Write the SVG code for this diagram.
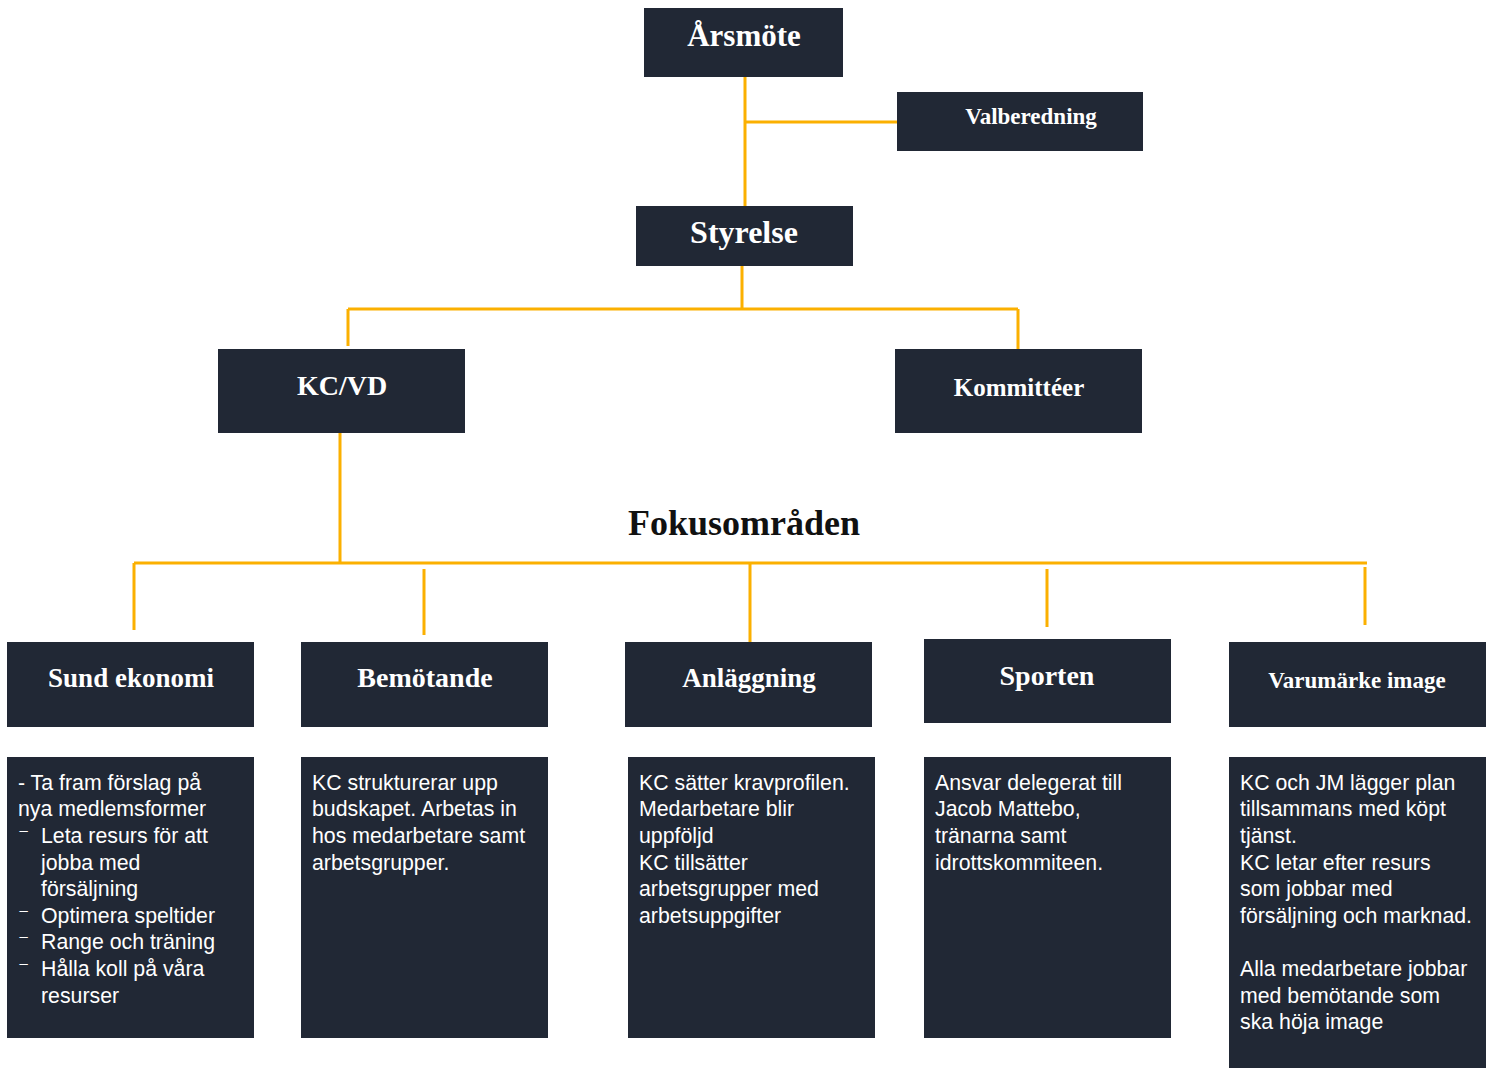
<svg xmlns="http://www.w3.org/2000/svg" width="1492" height="1068" viewBox="0 0 1492 1068">
<style>
.box{fill:#212835}
.ln{stroke:#FBB000;stroke-width:3;fill:none}
.h{font-family:"Liberation Serif",serif;font-weight:bold;fill:#fff;text-anchor:middle}
.t{font-family:"Liberation Sans",Arial,sans-serif;font-size:21.3px;fill:#fff}
.d{font-family:"DejaVu Sans",sans-serif}
</style>
<rect width="1492" height="1068" fill="#fff"/>
<g id="connectors">
<path class="ln" d="M745 77V206M745 122H897"/>
<path class="ln" d="M742 266V309M348 309H1018M348 309V346M1018 309V349"/>
<path class="ln" d="M340 433V563M134 563H1367M134 563V630M424 569V635M750 563V642M1047 569V627M1365 567V625"/>
</g>
<g id="arsmote"><rect class="box" x="644" y="8" width="199" height="69"/><text class="h" x="744" y="46" font-size="31">Årsmöte</text></g>
<g id="valberedning"><rect class="box" x="897" y="92" width="246" height="59"/><text class="h" x="1031" y="124" font-size="23">Valberedning</text></g>
<g id="styrelse"><rect class="box" x="636" y="206" width="217" height="60"/><text class="h" x="744" y="243" font-size="32">Styrelse</text></g>
<g id="kcvd"><rect class="box" x="218" y="349" width="247" height="84"/><text class="h" x="342" y="395" font-size="28">KC/VD</text></g>
<g id="kommitteer"><rect class="box" x="895" y="349" width="247" height="84"/><text class="h" x="1019" y="396" font-size="25">Kommittéer</text></g>
<g id="fokus"><text x="744" y="535" font-family="'Liberation Serif',serif" font-weight="bold" font-size="36" fill="#111" text-anchor="middle">Fokusområden</text></g>
<g id="sund"><rect class="box" x="7" y="642" width="247" height="85"/><text class="h" x="131" y="687" font-size="27">Sund ekonomi</text></g>
<g id="bemotande"><rect class="box" x="301" y="642" width="247" height="85"/><text class="h" x="425" y="687" font-size="28">Bemötande</text></g>
<g id="anlaggning"><rect class="box" x="625" y="642" width="247" height="85"/><text class="h" x="749" y="687" font-size="27">Anläggning</text></g>
<g id="sporten"><rect class="box" x="924" y="639" width="247" height="84"/><text class="h" x="1047" y="685" font-size="28">Sporten</text></g>
<g id="varumarke"><rect class="box" x="1229" y="642" width="257" height="85"/><text class="h" x="1357" y="688" font-size="23">Varumärke image</text></g>
<g id="sund-detail"><rect class="box" x="7" y="757" width="247" height="281"/>
<text class="t" x="18" y="790">- Ta fram förslag på</text>
<text class="t" x="18" y="816">nya medlemsformer</text>
<text class="t" y="843"><tspan class="d" x="18">⁻</tspan><tspan x="41">Leta resurs för att</tspan></text>
<text class="t" x="41" y="870">jobba med</text>
<text class="t" x="41" y="896">försäljning</text>
<text class="t" y="923"><tspan class="d" x="18">⁻</tspan><tspan x="41">Optimera speltider</tspan></text>
<text class="t" y="949"><tspan class="d" x="18">⁻</tspan><tspan x="41">Range och träning</tspan></text>
<text class="t" y="976"><tspan class="d" x="18">⁻</tspan><tspan x="41">Hålla koll på våra</tspan></text>
<text class="t" x="41" y="1003">resurser</text>
</g>
<g id="bemotande-detail"><rect class="box" x="301" y="757" width="247" height="281"/>
<text class="t" x="312" y="790">KC strukturerar upp</text>
<text class="t" x="312" y="816">budskapet. Arbetas in</text>
<text class="t" x="312" y="843">hos medarbetare samt</text>
<text class="t" x="312" y="870">arbetsgrupper.</text>
</g>
<g id="anlaggning-detail"><rect class="box" x="628" y="757" width="247" height="281"/>
<text class="t" x="639" y="790">KC sätter kravprofilen.</text>
<text class="t" x="639" y="816">Medarbetare blir</text>
<text class="t" x="639" y="843">uppföljd</text>
<text class="t" x="639" y="870">KC tillsätter</text>
<text class="t" x="639" y="896">arbetsgrupper med</text>
<text class="t" x="639" y="923">arbetsuppgifter</text>
</g>
<g id="sporten-detail"><rect class="box" x="924" y="757" width="247" height="281"/>
<text class="t" x="935" y="790">Ansvar delegerat till</text>
<text class="t" x="935" y="816">Jacob Mattebo,</text>
<text class="t" x="935" y="843">tränarna samt</text>
<text class="t" x="935" y="870">idrottskommiteen.</text>
</g>
<g id="varumarke-detail"><rect class="box" x="1229" y="757" width="257" height="311"/>
<text class="t" x="1240" y="790">KC och JM lägger plan</text>
<text class="t" x="1240" y="816">tillsammans med köpt</text>
<text class="t" x="1240" y="843">tjänst.</text>
<text class="t" x="1240" y="870">KC letar efter resurs</text>
<text class="t" x="1240" y="896">som jobbar med</text>
<text class="t" x="1240" y="923">försäljning och marknad.</text>
<text class="t" x="1240" y="976">Alla medarbetare jobbar</text>
<text class="t" x="1240" y="1003">med bemötande som</text>
<text class="t" x="1240" y="1029">ska höja image</text>
</g>
</svg>
